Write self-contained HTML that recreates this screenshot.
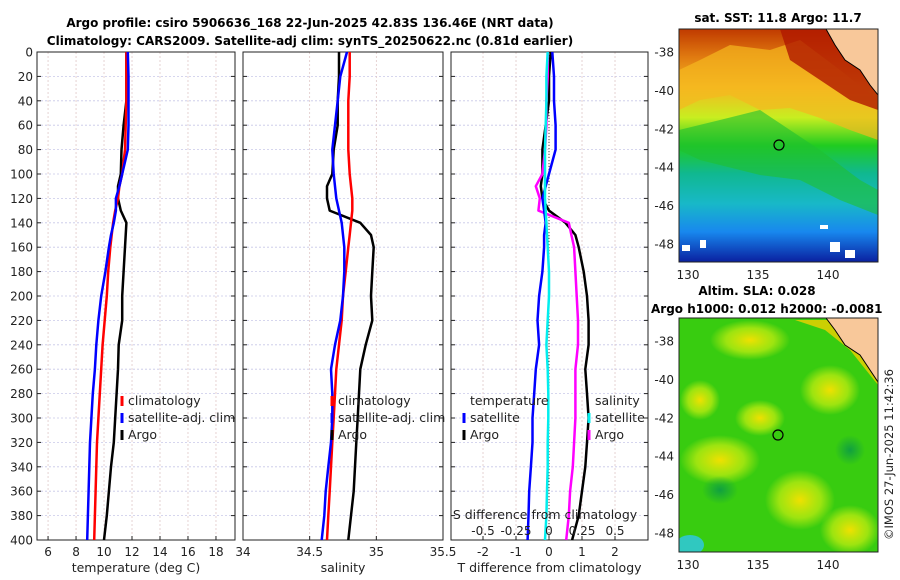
<!DOCTYPE html>
<html><head><meta charset="utf-8"><style>
body{margin:0;background:#fff;}
svg{display:block;font-family:"DejaVu Sans","Liberation Sans",sans-serif;}
</style></head><body>
<svg id="fig" width="900" height="580" viewBox="0 0 900 580">
<defs>
<linearGradient id="sstg" x1="0" y1="0" x2="0" y2="1">
<stop offset="0" stop-color="#c03a00"/><stop offset="0.12" stop-color="#e07a10"/>
<stop offset="0.25" stop-color="#f5b820"/><stop offset="0.38" stop-color="#c8ee20"/>
<stop offset="0.5" stop-color="#20cc20"/><stop offset="0.62" stop-color="#10b890"/>
<stop offset="0.75" stop-color="#18b8c8"/><stop offset="0.87" stop-color="#1888ee"/>
<stop offset="1" stop-color="#0a20a0"/></linearGradient>
<radialGradient id="yb"><stop offset="0" stop-color="#f0e000"/><stop offset="0.6" stop-color="#c8ee10" stop-opacity="0.7"/><stop offset="1" stop-color="#c8ee10" stop-opacity="0"/></radialGradient>
<radialGradient id="gb"><stop offset="0" stop-color="#10a040"/><stop offset="1" stop-color="#10a040" stop-opacity="0"/></radialGradient>
<clipPath id="c1"><rect x="679" y="29" width="199" height="233"/></clipPath>
<clipPath id="c2"><rect x="679" y="318" width="199" height="234"/></clipPath>
</defs>
<text x="310" y="27" text-anchor="middle" font-size="12" font-weight="bold">Argo profile: csiro 5906636_168 22-Jun-2025 42.83S 136.46E (NRT data)</text>
<text x="310" y="45" text-anchor="middle" font-size="12" font-weight="bold">Climatology: CARS2009. Satellite-adj clim: synTS_20250622.nc (0.81d earlier)</text>
<g id="panels"></g>
<g id="maps">
<g clip-path="url(#c1)">
<rect x="679" y="29" width="199" height="233" fill="url(#sstg)"/>
<path d="M679,110 L700,100 L730,95 L760,110 L790,108 L820,118 L850,130 L878,140 L878,100 L840,70 L800,40 L770,50 L730,45 L700,60 L679,70Z" fill="#f5b820" opacity="0.7"/>
<path d="M780,29 L878,29 L878,110 L850,100 L820,80 L790,60Z" fill="#b01800" opacity="0.8"/>
<path d="M679,130 L720,120 L760,110 L790,130 L820,150 L860,180 L878,190 L878,215 L840,200 L800,180 L760,175 L700,160 L679,150Z" fill="#20c030" opacity="0.6"/>
<path d="M826,29 L878,29 L878,95 L870,85 L860,70 L845,60 L835,45Z" fill="#f8c89a"/>
<path d="M800,29 L826,29 L835,45 L845,60 L860,70 L870,85 L878,95" fill="none" stroke="#000" stroke-width="1"/>
<rect x="682" y="245" width="8" height="6" fill="#fff"/><rect x="700" y="240" width="6" height="8" fill="#fff"/><rect x="830" y="242" width="10" height="10" fill="#fff"/><rect x="845" y="250" width="10" height="8" fill="#fff"/><rect x="820" y="225" width="8" height="4" fill="#fff"/>
<circle cx="779" cy="145" r="5" fill="none" stroke="#000" stroke-width="1.2"/>
</g>
<rect x="679" y="29" width="199" height="233" fill="none" stroke="#222" stroke-width="1"/>
<g clip-path="url(#c2)">
<rect x="679" y="318" width="199" height="234" fill="#38cc10"/>
<ellipse cx="750" cy="340" rx="40" ry="20" fill="url(#yb)"/>
<ellipse cx="830" cy="390" rx="30" ry="25" fill="url(#yb)"/>
<ellipse cx="760" cy="418" rx="25" ry="18" fill="url(#yb)"/>
<ellipse cx="720" cy="460" rx="40" ry="25" fill="url(#yb)"/>
<ellipse cx="800" cy="500" rx="35" ry="30" fill="url(#yb)"/>
<ellipse cx="850" cy="530" rx="30" ry="25" fill="url(#yb)"/>
<ellipse cx="700" cy="400" rx="20" ry="20" fill="url(#yb)"/>
<ellipse cx="720" cy="490" rx="18" ry="14" fill="url(#gb)"/>
<ellipse cx="850" cy="450" rx="15" ry="15" fill="url(#gb)"/>
<ellipse cx="690" cy="545" rx="14" ry="10" fill="#30c8c0"/>
<path d="M795,320 L840,320 L878,360 L878,385 L850,350 L825,330Z" fill="#f0d000" opacity="0.8"/>
<path d="M826,318 L878,318 L878,382 L870,370 L860,355 L845,345 L835,330Z" fill="#f8c89a"/>
<path d="M800,318 L826,318 L835,330 L845,345 L860,355 L870,370 L878,382" fill="none" stroke="#000" stroke-width="1"/>
<circle cx="778" cy="435" r="5" fill="none" stroke="#000" stroke-width="1.2"/>
</g>
<rect x="679" y="318" width="199" height="234" fill="none" stroke="#222" stroke-width="1"/>
<text x="778" y="22" text-anchor="middle" font-size="12" font-weight="bold">sat. SST: 11.8 Argo: 11.7</text>
<text x="757" y="295" text-anchor="middle" font-size="12" font-weight="bold">Altim. SLA: 0.028</text>
<text x="651" y="313" font-size="12" font-weight="bold">Argo h1000: 0.012 h2000: -0.0081</text>
<text transform="translate(893,540) rotate(-90)" font-size="11.5" fill="#222">©IMOS 27-Jun-2025 11:42:36</text>
</g>
</svg>
<script>
// depth grid (m)
const depths=[0,20,40,60,80,100,110,120,130,140,150,160,180,200,220,240,260,280,300,320,340,360,380,400];
// temperature (deg C)
const tClim=[11.6,11.6,11.6,11.55,11.5,11.3,11.1,11.0,10.8,10.65,10.55,10.45,10.3,10.2,10.05,9.9,9.8,9.7,9.6,9.5,9.45,9.4,9.35,9.3];
const tSat=[11.7,11.75,11.75,11.75,11.7,11.3,11.1,10.85,10.85,10.7,10.5,10.35,10.1,9.8,9.6,9.45,9.35,9.2,9.1,9.0,8.95,8.9,8.85,8.8];
const tArgo=[11.6,11.6,11.6,11.4,11.25,11.2,11.0,11.0,11.2,11.6,11.55,11.5,11.4,11.3,11.3,11.05,11.0,10.9,10.8,10.7,10.5,10.35,10.2,10.0];
// salinity (PSU)
const sClim=[34.80,34.80,34.79,34.79,34.79,34.80,34.81,34.82,34.82,34.81,34.80,34.79,34.77,34.75,34.74,34.72,34.70,34.69,34.68,34.67,34.66,34.65,34.64,34.63];
const sSat=[34.78,34.73,34.71,34.69,34.67,34.68,34.69,34.70,34.72,34.74,34.75,34.76,34.76,34.75,34.73,34.69,34.66,34.67,34.67,34.66,34.64,34.62,34.61,34.59];
const sArgo=[34.72,34.72,34.71,34.71,34.68,34.67,34.63,34.63,34.65,34.88,34.96,34.98,34.97,34.96,34.97,34.92,34.88,34.87,34.86,34.85,34.84,34.83,34.81,34.79];
// differences from climatology (T units; S diff plotted on S axis x4)
const dTSat=[0.1,0.15,0.15,0.2,0.2,0.0,-0.1,-0.2,-0.15,-0.1,-0.15,-0.15,-0.2,-0.3,-0.35,-0.3,-0.4,-0.45,-0.5,-0.5,-0.55,-0.6,-0.62,-0.65];
const dSSat=[-0.01,-0.02,-0.02,-0.025,-0.03,-0.03,-0.03,-0.03,-0.025,-0.02,-0.015,-0.01,-0.0,0.0,-0.01,-0.02,-0.01,-0.005,-0.005,-0.01,-0.01,-0.015,-0.02,-0.03];
const dTArgo=[0.05,0.0,0.0,-0.1,-0.2,-0.2,-0.25,-0.2,0.0,0.5,0.8,0.9,1.05,1.15,1.2,1.2,1.1,1.15,1.2,1.15,1.1,1.0,0.9,0.7];
const dSArgo=[-0.01,-0.01,-0.02,-0.02,-0.03,-0.05,-0.1,-0.07,-0.08,0.15,0.17,0.19,0.20,0.21,0.22,0.22,0.20,0.20,0.20,0.19,0.18,0.16,0.15,0.13];
// tick labels
const depthTicks=[0,20,40,60,80,100,120,140,160,180,200,220,240,260,280,300,320,340,360,380,400];
const tTicks=[6,8,10,12,14,16,18];
const sTicks=[34,34.5,35,35.5];
const dTicks=[-2,-1,0,1,2];
const sdTicks=[-0.5,-0.25,0,0.25,0.5];
const latTicks=[-38,-40,-42,-44,-46,-48];
const lonTicks=[130,135,140];

const NS='http://www.w3.org/2000/svg';
const G=document.getElementById('panels');
const Y0=52,Y1=540;
const yD=d=>Y0+(d/400)*(Y1-Y0);
function el(tag,attrs,parent){const e=document.createElementNS(NS,tag);for(const k in attrs)e.setAttribute(k,attrs[k]);(parent||G).appendChild(e);return e;}
function txt(x,y,s,anchor,size,parent){const t=el('text',{x:x,y:y,'text-anchor':anchor||'middle','font-size':size||12,fill:'#222'},parent);t.textContent=s;return t;}
const panels=[
 {x0:37,x1:235,lo:5.21,hi:19.36,ticks:tTicks,label:'temperature (deg C)',name:'temperature-panel'},
 {x0:243,x1:443,lo:34,hi:35.5,ticks:sTicks,label:'salinity',name:'salinity-panel'},
 {x0:451,x1:648,lo:-2.97,hi:3.0,ticks:dTicks,label:'T difference from climatology',name:'difference-panel'}];
const xf=panels.map(p=>v=>p.x0+(v-p.lo)/(p.hi-p.lo)*(p.x1-p.x0));
panels.forEach((p,i)=>{
 const g=el('g',{});
 
 
 depthTicks.forEach(d=>{el('line',{x1:p.x0,x2:p.x1,y1:yD(d),y2:yD(d),stroke:'#c8c8e8','stroke-width':0.8,'stroke-dasharray':'2,2'},g);});
 p.ticks.forEach(t=>{const x=xf[i](t);el('line',{x1:x,x2:x,y1:Y0,y2:Y1,stroke:'#e0c8c8','stroke-width':0.8,'stroke-dasharray':'2,2'},g);
  el('line',{x1:x,x2:x,y1:Y1,y2:Y1-4,stroke:'#222'},g);
  txt(x,556,String(t),'middle',12,g);});
 depthTicks.forEach(d=>{el('line',{x1:p.x0,x2:p.x0+4,y1:yD(d),y2:yD(d),stroke:'#222'},g);el('line',{x1:p.x1,x2:p.x1-4,y1:yD(d),y2:yD(d),stroke:'#222'},g);});
 txt((p.x0+p.x1)/2,572,p.label,'middle',12.5,g);
 el('rect',{x:p.x0,y:Y0,width:p.x1-p.x0,height:Y1-Y0,fill:'none',stroke:'#222','stroke-width':1},g);
});
const ya=el('g',{});


depthTicks.forEach(d=>txt(33,yD(d)+4.5,String(d),'end',12,ya));
function line(fx,vals,color,w,name,scale){const pts=vals.map((v,k)=>fx(v*(scale||1)).toFixed(1)+','+yD(depths[k]).toFixed(1)).join(' ');
 const pl=el('polyline',{points:pts,fill:'none',stroke:color,'stroke-width':w,'stroke-linejoin':'round'});
 
 }
el('line',{x1:xf[2](0),x2:xf[2](0),y1:Y0,y2:Y1,stroke:'#444','stroke-width':1,'stroke-dasharray':'1,2'});
line(xf[0],tArgo,'#000',2.5,'temp-argo-line');
line(xf[0],tClim,'#f00',2.5,'temp-climatology-line');
line(xf[0],tSat,'#00f',2.5,'temp-satellite-line');
line(xf[1],sArgo,'#000',2.5,'sal-argo-line');
line(xf[1],sClim,'#f00',2.5,'sal-climatology-line');
line(xf[1],sSat,'#00f',2.5,'sal-satellite-line');
line(xf[2],dTArgo,'#000',2.5,'tdiff-argo-line');
line(xf[2],dSArgo,'#f0f',2.5,'sdiff-argo-line',4);
line(xf[2],dTSat,'#00f',2.5,'tdiff-satellite-line');
line(xf[2],dSSat,'#0ee',2.5,'sdiff-satellite-line',4);
const sa=el('g',{});


txt(545,519,'S difference from climatology','middle',12.5,sa);
sdTicks.forEach(t=>txt(xf[2](t*4),535,String(t),'middle',12,sa));
function legend(x,y,items,name){const g=el('g',{});
 
 
 items.forEach((it,k)=>{const yy=y+k*17;if(it[1]){el('line',{x1:x,x2:x,y1:yy-9,y2:yy+1,stroke:it[1],'stroke-width':3},g);}txt(x+6,yy,it[0],'start',12.5,g);});}
legend(122,405,[['climatology','#f00'],['satellite-adj. clim','#00f'],['Argo','#000']],'temp-legend');
legend(332,405,[['climatology','#f00'],['satellite-adj. clim','#00f'],['Argo','#000']],'sal-legend');
legend(464,405,[['temperature',null],['satellite','#00f'],['Argo','#000']],'tdiff-legend');
legend(589,405,[['salinity',null],['satellite','#0ee'],['Argo','#f0f']],'sdiff-legend');
const maps=[{x0:679,y0:29,x1:878,y1:262,lat0:-38,py0:52,name:'sst-map-axes'},{x0:679,y0:318,x1:878,y1:552,lat0:-38,py0:341,name:'sla-map-axes'}];
const lonX=l=>688+(l-130)*14;
maps.forEach(m=>{const g=el('g',{});
 
 
 latTicks.forEach(l=>{const y=m.py0+(m.lat0-l)*19.2;el('line',{x1:m.x0,x2:m.x0+3,y1:y,y2:y,stroke:'#222'},g);el('line',{x1:m.x1,x2:m.x1-3,y1:y,y2:y,stroke:'#222'},g);txt(m.x0-5,y+4.5,String(l),'end',12,g);});
 lonTicks.forEach(l=>{const x=lonX(l);el('line',{x1:x,x2:x,y1:m.y1,y2:m.y1-3,stroke:'#222'},g);txt(x,m.y1+17,String(l),'middle',12,g);});});
</script>
</body></html>
